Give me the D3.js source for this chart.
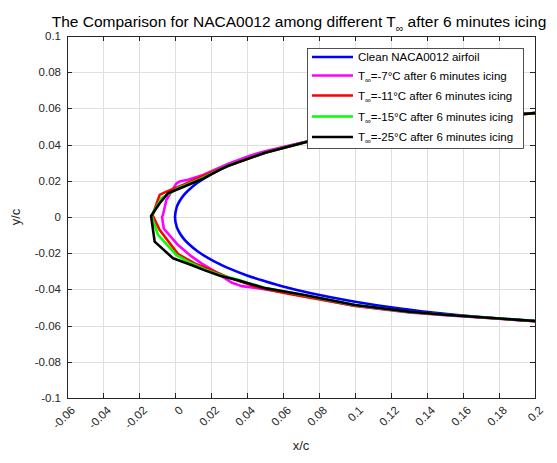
<!DOCTYPE html>
<html>
<head>
<meta charset="utf-8">
<script src="https://cdn.jsdelivr.net/npm/d3@7/dist/d3.min.js"></script>
<style>
  html, body { margin: 0; padding: 0; background: #fff; }
  svg { display: block; font-family: "Liberation Sans", Arial, Helvetica, sans-serif; }
</style>
</head>
<body>
<svg id="chart" width="557" height="463"></svg>
<script>
// ---- data ---------------------------------------------------------------
// Clean NACA0012 contour (upper surface from x/c = 0.225 to the nose, then lower surface back)
const cleanX = [0.225, 0.2, 0.175, 0.15, 0.125, 0.1, 0.075, 0.06, 0.05, 0.04, 0.03, 0.025, 0.02, 0.0125, 0.0075, 0.005, 0.0025, 0.001, 0,
                0.001, 0.0025, 0.005, 0.0075, 0.0125, 0.02, 0.025, 0.03, 0.04, 0.05, 0.06, 0.075, 0.1, 0.125, 0.15, 0.175, 0.2, 0.225];
const cleanY = [0.0586, 0.0574, 0.0557, 0.0535, 0.0506, 0.0468, 0.0420, 0.0384, 0.0355, 0.0323, 0.0284, 0.0261, 0.0236, 0.0189, 0.0148, 0.0122, 0.0087, 0.0056, 0,
                -0.0056, -0.0087, -0.0122, -0.0148, -0.0189, -0.0236, -0.0261, -0.0284, -0.0323, -0.0355, -0.0384, -0.0420, -0.0468, -0.0506, -0.0535, -0.0557, -0.0574, -0.0586];

// Iced contours after 6 minutes, T = -7 C
const iced7X = [0.225, 0.2, 0.15, 0.1, 0.075, 0.06, 0.05, 0.042, 0.03, 0.0156, 0.0072, 0.0025, 0.0008, -0.0048, -0.0067, -0.0072,
                -0.0062, 0.0017, 0.0088, 0.0147, 0.022, 0.0313, 0.037, 0.045, 0.06, 0.075, 0.1, 0.13, 0.15, 0.2, 0.225];
const iced7Y = [0.0586, 0.0574, 0.0535, 0.0468, 0.0421, 0.0387, 0.0363, 0.0340, 0.0296, 0.0232, 0.0206, 0.0196, 0.0186, 0.0094, 0.0011, 0.0,
                -0.0065, -0.0155, -0.0215, -0.0256, -0.0300, -0.0362, -0.0382, -0.0392, -0.0415, -0.0443, -0.0492, -0.0528, -0.0542, -0.0576, -0.0588];

// T = -11 C
const iced11X = [0.225, 0.2, 0.15, 0.1, 0.075, 0.05, 0.03, 0.021, 0.0147, 0.0044, -0.0048, -0.0085, -0.0125,
                 -0.0085, 0.0017, 0.0109, 0.02, 0.03, 0.045, 0.06, 0.072, 0.1, 0.13, 0.15, 0.2, 0.225];
const iced11Y = [0.0586, 0.0574, 0.0535, 0.0468, 0.0420, 0.0355, 0.0285, 0.0250, 0.0223, 0.0177, 0.0140, 0.0122, 0.0010,
                 -0.0072, -0.0205, -0.0256, -0.0293, -0.0335, -0.0385, -0.0418, -0.0440, -0.0490, -0.0525, -0.0540, -0.0576, -0.0588];

// T = -15 C
const iced15X = [0.225, 0.2, 0.15, 0.1, 0.075, 0.05, 0.03, 0.025, 0.0128, 0.0017, -0.0076, -0.0131,
                 -0.0094, 0.0008, 0.0072, 0.0166, 0.025, 0.035, 0.05, 0.072, 0.1, 0.13, 0.15, 0.2, 0.225];
const iced15Y = [0.0586, 0.0574, 0.0535, 0.0468, 0.0420, 0.0355, 0.0286, 0.0263, 0.0204, 0.0159, 0.0103, 0.0006,
                 -0.0099, -0.0210, -0.0247, -0.0290, -0.0320, -0.0347, -0.0392, -0.0432, -0.0487, -0.0524, -0.0540, -0.0575, -0.0587];

// T = -25 C
const iced25X = [0.225, 0.2, 0.15, 0.1, 0.075, 0.05, 0.03, 0.025, 0.0156, 0.0072, -0.0039, -0.0085, -0.0133,
                 -0.0113, -0.0011, 0.0091, 0.0166, 0.025, 0.035, 0.05, 0.072, 0.1, 0.13, 0.15, 0.2, 0.225];
const iced25Y = [0.0586, 0.0574, 0.0535, 0.0468, 0.0420, 0.0355, 0.0285, 0.0262, 0.0212, 0.0177, 0.0131, 0.0076, 0.0006,
                 -0.0136, -0.0228, -0.0265, -0.0295, -0.0325, -0.0350, -0.0393, -0.0431, -0.0486, -0.0523, -0.0540, -0.0575, -0.0587];

const seriesNames = ["Clean NACA0012 airfoil", "-7", "-11", "-15", "-25"];
const seriesColors = ["#0000ff", "#ff00ff", "#ff0000", "#00ff00", "#000000"];

const xTickValues = [-0.06, -0.04, -0.02, 0, 0.02, 0.04, 0.06, 0.08, 0.1, 0.12, 0.14, 0.16, 0.18, 0.2];
const xTickLabels = ["-0.06", "-0.04", "-0.02", "0", "0.02", "0.04", "0.06", "0.08", "0.1", "0.12", "0.14", "0.16", "0.18", "0.2"];
const yTickValues = [-0.1, -0.08, -0.06, -0.04, -0.02, 0, 0.02, 0.04, 0.06, 0.08, 0.1];
const yTickLabels = ["-0.1", "-0.08", "-0.06", "-0.04", "-0.02", "0", "0.02", "0.04", "0.06", "0.08", "0.1"];

// ---- layout ---------------------------------------------------------------
const svg = d3.select("#chart");
const L = 67, R = 535, T = 36, B = 398;
const axisColor = "#262626";

const x = d3.scaleLinear().domain([-0.06, 0.2]).range([L, R]);
const y = d3.scaleLinear().domain([-0.1, 0.1]).range([B, T]);

// grid
const grid = svg.append("g").attr("shape-rendering", "crispEdges");
grid.selectAll("line.gx").data(xTickValues.slice(1, -1)).join("line")
  .attr("x1", d => Math.round(x(d)) + 0.5).attr("x2", d => Math.round(x(d)) + 0.5)
  .attr("y1", T).attr("y2", B).attr("stroke", "#dfdfdf").attr("stroke-width", 1);
grid.selectAll("line.gy").data(yTickValues.slice(1, -1)).join("line")
  .attr("y1", d => Math.round(y(d)) + 0.5).attr("y2", d => Math.round(y(d)) + 0.5)
  .attr("x1", L).attr("x2", R).attr("stroke", "#dfdfdf").attr("stroke-width", 1);

// data lines
svg.append("clipPath").attr("id", "plotClip")
  .append("rect").attr("x", L).attr("y", T).attr("width", R - L).attr("height", B - T);

const plot = svg.append("g").attr("clip-path", "url(#plotClip)");
const toPts = (xs, ys) => xs.map((v, i) => [v, ys[i]]);
const smoothLine = d3.line().x(d => x(d[0])).y(d => y(d[1])).curve(d3.curveCatmullRom.alpha(0.5));
const polyLine = d3.line().x(d => x(d[0])).y(d => y(d[1]));

const contours = [
  { pts: toPts(cleanX, cleanY), gen: smoothLine },
  { pts: toPts(iced7X, iced7Y), gen: polyLine },
  { pts: toPts(iced11X, iced11Y), gen: polyLine },
  { pts: toPts(iced15X, iced15Y), gen: polyLine },
  { pts: toPts(iced25X, iced25Y), gen: polyLine }
];
contours.forEach((c, i) => {
  plot.append("path")
    .attr("d", c.gen(c.pts))
    .attr("fill", "none")
    .attr("stroke", seriesColors[i])
    .attr("stroke-width", 2.6)
    .attr("stroke-linejoin", "round");
});

// axes box with inward ticks on all sides
const axes = svg.append("g").attr("shape-rendering", "crispEdges");
const tickLen = 5;
const xAxisB = d3.axisBottom(x).tickValues(xTickValues).tickSize(-tickLen).tickFormat("");
const xAxisT = d3.axisTop(x).tickValues(xTickValues).tickSize(-tickLen).tickFormat("");
const yAxisL = d3.axisLeft(y).tickValues(yTickValues).tickSize(-tickLen).tickFormat("");
const yAxisR = d3.axisRight(y).tickValues(yTickValues).tickSize(-tickLen).tickFormat("");
[[xAxisB, `translate(0,${B})`], [xAxisT, `translate(0,${T})`], [yAxisL, `translate(${L},0)`], [yAxisR, `translate(${R},0)`]]
  .forEach(([ax, tr]) => {
    const g = axes.append("g").attr("transform", tr).call(ax);
    g.select(".domain").attr("stroke", axisColor).attr("stroke-width", 1);
    g.selectAll(".tick line").attr("stroke", axisColor).attr("stroke-width", 1);
  });

// tick labels
svg.append("g").selectAll("text").data(xTickValues).join("text")
  .attr("transform", d => `translate(${x(d) + 6},${B + 10}) rotate(-45)`)
  .attr("text-anchor", "end").attr("dy", "0.35em")
  .attr("font-size", 11.5).attr("fill", axisColor)
  .text((d, i) => xTickLabels[i]);

svg.append("g").selectAll("text").data(yTickValues).join("text")
  .attr("x", L - 6).attr("y", d => y(d)).attr("dy", "0.35em")
  .attr("text-anchor", "end").attr("font-size", 11.5).attr("fill", axisColor)
  .text((d, i) => yTickLabels[i]);

// axis labels
svg.append("text").attr("x", (L + R) / 2).attr("y", 450)
  .attr("text-anchor", "middle").attr("font-size", 13).attr("fill", axisColor).text("x/c");
svg.append("text").attr("transform", `translate(20,${(T + B) / 2}) rotate(-90)`)
  .attr("text-anchor", "middle").attr("font-size", 13).attr("fill", axisColor).text("y/c");

// title with subscript infinity
const title = svg.append("text").attr("x", (L + R) / 2 - 2).attr("y", 27)
  .attr("text-anchor", "middle").attr("font-size", 15.5).attr("fill", "#000");
title.append("tspan").text("The Comparison for NACA0012 among different T");
title.append("tspan").attr("font-size", 10.5).attr("dy", 4.5).text("\u221E");
title.append("tspan").attr("dy", -4.5).text(" after 6 minutes icing");

// legend
const leg = svg.append("g");
leg.append("rect").attr("x", 307.5).attr("y", 48.5).attr("width", 216).attr("height", 100)
  .attr("fill", "#fff").attr("stroke", axisColor).attr("stroke-width", 0.8);
const rowY = [57, 75.5, 95.5, 116.5, 137];
seriesNames.forEach((name, i) => {
  const yy = rowY[i];
  leg.append("line").attr("x1", 312).attr("x2", 353).attr("y1", yy).attr("y2", yy)
    .attr("stroke", seriesColors[i]).attr("stroke-width", 2.6);
  const t = leg.append("text").attr("x", 358).attr("y", yy).attr("dy", "0.35em")
    .attr("font-size", 11.5).attr("fill", "#000");
  if (i === 0) {
    t.text(name);
  } else {
    t.append("tspan").text("T");
    t.append("tspan").attr("font-size", 8).attr("dy", 3).text("\u221E");
    t.append("tspan").attr("dy", -3).text("=" + name + "\u00B0C after 6 minutes icing");
  }
});
</script>
</body>
</html>
